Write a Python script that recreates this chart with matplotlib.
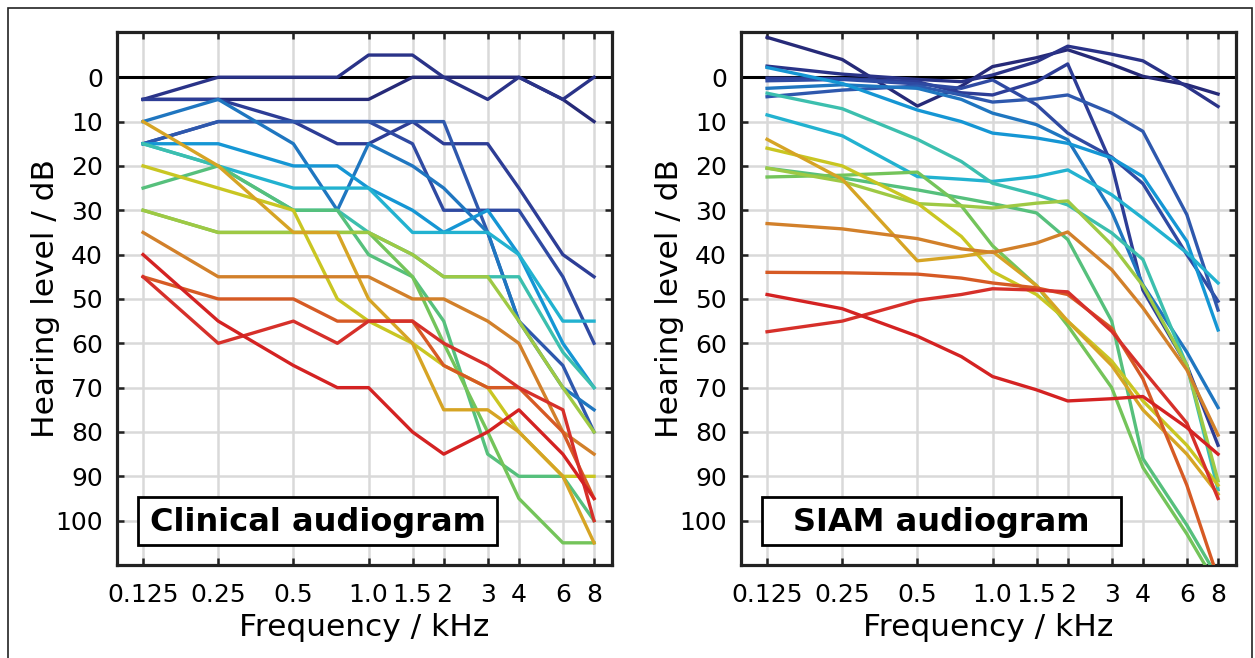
import numpy as np
import matplotlib
matplotlib.use("Agg")
import matplotlib.pyplot as plt
from matplotlib.patches import Rectangle

# audiometric frequencies in kHz (0.75 has data but no tick)
freqs = [0.125, 0.25, 0.5, 0.75, 1.0, 1.5, 2, 3, 4, 6, 8]
tick_freqs = [0.125, 0.25, 0.5, 1.0, 1.5, 2, 3, 4, 6, 8]
tick_labels = ["0.125", "0.25", "0.5", "1.0", "1.5", "2", "3", "4", "6", "8"]
db_ticks = list(range(0, 101, 10))

# clinical audiograms, hearing level in dB, ordered navy -> red
clinical = [
    [5, 5, 5, 5, 5, 0, 0, 0, 0, 5, 10],
    [5, 0, 0, 0, -5, -5, 0, 5, 0, 5, 0],
    [5, 5, 10, 15, 15, 10, 15, 15, 25, 40, 45],
    [15, 10, 10, 10, 10, 15, 30, 30, 30, 45, 60],
    [15, 10, 10, 10, 10, 10, 10, 35, 55, 65, 80],
    [10, 5, 15, 30, 15, 20, 25, 35, 55, 70, 75],
    [15, 15, 20, 20, 25, 30, 35, 30, 40, 60, 70],
    [15, 20, 25, 25, 25, 35, 35, 35, 40, 55, 55],
    [15, 20, 30, 30, 35, 40, 45, 45, 45, 62, 70],
    [25, 20, 30, 30, 40, 45, 55, 85, 90, 90, 100],
    [30, 35, 35, 35, 35, 45, 60, 80, 95, 105, 105],
    [30, 35, 35, 35, 35, 40, 45, 45, 55, 70, 80],
    [20, 25, 30, 50, 55, 60, 65, 70, 80, 90, 90],
    [10, 20, 35, 35, 50, 60, 75, 75, 80, 90, 105],
    [35, 45, 45, 45, 45, 50, 50, 55, 60, 80, 85],
    [45, 50, 50, 55, 55, 55, 65, 70, 70, 80, 95],
    [45, 60, 55, 60, 55, 55, 60, 65, 70, 75, 100],
    [40, 55, 65, 70, 70, 80, 85, 80, 75, 85, 95],
]

# SIAM audiograms, hearing level in dB, ordered navy -> red
siam = [
    [-9, -4, 6.5, 2, -2.4, -4.4, -6.2, -2.9, -0.2, 1.7, 3.8],
    [-2.5, -0.7, 0.5, 1.0, -0.5, -3.5, -7, -5.2, -3.7, 2.1, 6.6],
    [0.2, 0.3, 1.0, 3.5, 4.0, 1.0, -3.0, 19.7, 48, 65, 83],
    [0.8, 0.5, 1.5, 2.5, 0.6, 6.2, 12.6, 18, 24, 40, 50.5],
    [4.4, 2.9, 2.0, 4.0, 5.6, 4.9, 4.0, 8.1, 12.2, 31, 52.5],
    [2.5, 1.7, 2.5, 5.0, 8.1, 10.7, 14.1, 30.3, 46.8, 62, 74.5],
    [-2.2, 1.4, 7.4, 10, 12.6, 13.7, 14.9, 18.2, 22.4, 37, 57],
    [8.5, 13.2, 22.4, 23, 23.5, 22.4, 20.9, 26.5, 31.8, 39.6, 46.4],
    [3.6, 7.1, 14, 19, 23.9, 26.5, 28.8, 35.1, 41.1, 65, 93],
    [20.5, 22.7, 25.4, 27.2, 28.5, 30.6, 36.6, 55, 86, 101, 113],
    [22.5, 22.1, 21.4, 29, 38, 47, 56, 70, 88, 103, 115],
    [20.5, 23.5, 28.5, 29, 29.5, 28.4, 27.9, 37.8, 47, 65, 91],
    [16, 20, 28.4, 35.9, 43.8, 49, 55, 64, 73, 83, 92],
    [14, 23, 41.4, 40.4, 39.3, 47, 55, 65, 75, 85, 94],
    [33, 34.2, 36.4, 38.7, 39.5, 37.4, 34.9, 43.4, 52, 66, 80.7],
    [44, 44.1, 44.4, 45.3, 46.4, 47.5, 49, 56.6, 68, 92, 113],
    [57.4, 55, 50.3, 49, 47.7, 48, 48.4, 57.3, 66, 78, 95],
    [49, 52.2, 58.4, 63, 67.5, 70.5, 73, 72.5, 72, 79, 85],
]

line_colors = ['#262a78', '#2a3388', '#2d3d96', '#2f4aa2', '#2e58ad', '#1f76c0',
               '#1596d4', '#22b2d0', '#3cbfae', '#56c07c', '#74c45a', '#9ec944',
               '#c9c622', '#d6a424', '#d2802a', '#d65a24', '#d6302a', '#d42222']


def draw_panel(ax, data, title):
    ax.set_xscale('log', base=2)
    for row, c in zip(data, line_colors):
        ax.plot(freqs, row, color=c, lw=2.4, zorder=3)
    ax.axhline(0, color='black', lw=2.2, zorder=2)
    ax.set_xlim(0.0983, 9.44)
    ax.set_ylim(110, -10.2)
    ax.set_xticks(tick_freqs)
    ax.set_xticklabels(tick_labels)
    ax.minorticks_off()
    ax.set_yticks(db_ticks)
    ax.grid(True, color='#d9d9d9', lw=1.8, zorder=0)
    ax.set_axisbelow(True)
    ax.tick_params(which='both', direction='in', top=True, right=True,
                   length=5, width=1.8, labelsize=18, pad=10, color='#222222')
    ax.tick_params(axis='x', pad=13)
    for s in ax.spines.values():
        s.set_linewidth(2.3)
        s.set_color('#222222')
    ax.set_xlabel('Frequency / kHz', fontsize=22.5, labelpad=4)
    ax.set_ylabel('Hearing level / dB', fontsize=22.5, labelpad=-3)
    ax.add_patch(Rectangle((0.042, 0.0375), 0.725, 0.09, transform=ax.transAxes,
                           facecolor='white', edgecolor='black', lw=2.0, zorder=5))
    ax.text(0.405, 0.0795, title, transform=ax.transAxes, ha='center', va='center',
            fontsize=23, fontweight='bold', zorder=6)


fig = plt.figure(figsize=(12.55, 6.58), dpi=100)
ax1 = fig.add_axes([117 / 1255, 1 - 565 / 658, 495 / 1255, 533 / 658])
ax2 = fig.add_axes([741 / 1255, 1 - 565 / 658, 495 / 1255, 533 / 658])
draw_panel(ax1, clinical, 'Clinical audiogram')
draw_panel(ax2, siam, 'SIAM audiogram')

# outer frame
fig.patches.append(Rectangle((8 / 1255, -0.05), 1244 / 1255, 1.05 - 8 / 658,
                             transform=fig.transFigure, fill=False,
                             edgecolor='#222222', lw=1.2))

fig.savefig('out.png', dpi=100)
